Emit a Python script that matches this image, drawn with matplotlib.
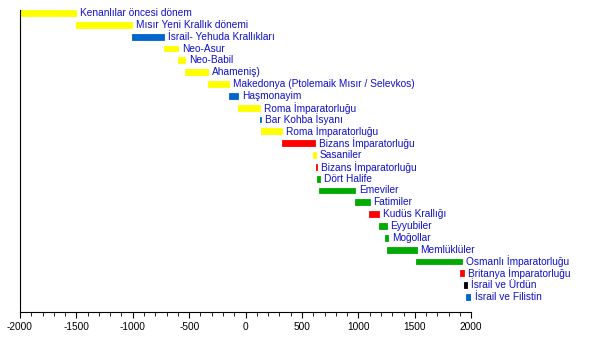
import matplotlib.pyplot as plt
from matplotlib.ticker import MultipleLocator

# donemler (yukaridan asagiya)
etiketler = ["Kenanlılar öncesi dönem", "Mısır Yeni Krallık dönemi", "İsrail- Yehuda Krallıkları",
             "Neo-Asur", "Neo-Babil", "Ahameniş)", "Makedonya (Ptolemaik Mısır / Selevkos)",
             "Haşmonayim", "Roma İmparatorluğu", "Bar Kohba İsyanı", "Roma İmparatorluğu",
             "Bizans İmparatorluğu", "Sasaniler", "Bizans İmparatorluğu", "Dört Halife",
             "Emeviler", "Fatimiler", "Kudüs Krallığı", "Eyyubiler", "Moğollar", "Memlüklüler",
             "Osmanlı İmparatorluğu", "Britanya İmparatorluğu", "İsrail ve Ürdün", "İsrail ve Filistin"]
baslangic = [-2000, -1500, -1010, -722, -595, -539, -332,
             -150, -70, 130, 136,
             324, 600, 622, 636,
             655, 969, 1090, 1180, 1240, 1250,
             1510, 1905, 1940, 1955]
bitis = [-1500, -1010, -722, -595, -539, -332, -150,
         -70, 130, 136, 320,
         614, 622, 636, 661,
         970, 1099, 1187, 1250, 1260, 1516,
         1917, 1940, 1960, 2000]
renkler = ["#ffff00", "#ffff00", "#0066cc", "#ffff00", "#ffff00", "#ffff00", "#ffff00",
           "#0066cc", "#ffff00", "#0066cc", "#ffff00",
           "#ff0000", "#ffff00", "#ff0000", "#00aa00",
           "#00aa00", "#00aa00", "#ff0000", "#00aa00", "#00aa00", "#00aa00",
           "#00aa00", "#ff0000", "#000000", "#0066cc"]

plt.rcParams['font.family'] = ['Liberation Sans', 'DejaVu Sans']
plt.rcParams['axes.unicode_minus'] = False

fig = plt.figure(figsize=(6, 3.4), dpi=100)
ax = fig.add_axes([0.0333, 0.0824, 0.752, 0.888])

for i in range(len(etiketler)):
    genislik = bitis[i] - baslangic[i]
    ax.barh(i, genislik, left=baslangic[i], height=0.5, color=renkler[i],
            edgecolor=renkler[i], linewidth=0.6)
    ax.text(bitis[i] + 35, i, etiketler[i], color="#1010c8", fontsize=7.3,
            va="center", ha="left", clip_on=False)

ax.set_xlim(-2000, 2000)
ax.set_ylim(25.27, -0.25)
ax.xaxis.set_major_locator(MultipleLocator(500))
ax.xaxis.set_minor_locator(MultipleLocator(100))
ax.tick_params(axis="x", which="major", length=4, labelsize=7.3, direction="out")
ax.tick_params(axis="x", which="minor", length=3)
ax.set_yticks([])
ax.spines["top"].set_visible(False)
ax.spines["right"].set_visible(False)

plt.savefig("out.png")
